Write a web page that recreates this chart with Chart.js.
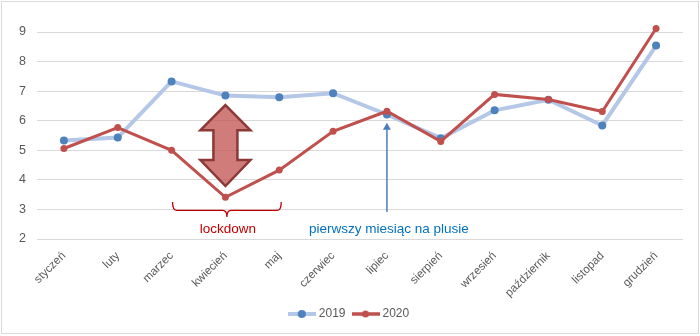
<!DOCTYPE html>
<html>
<head>
<meta charset="utf-8">
<script src="https://cdn.jsdelivr.net/npm/chart.js@4/dist/chart.umd.min.js"></script>
<style>
html,body{margin:0;padding:0;background:#fff;}
canvas{display:block;}
</style>
</head>
<body>
<canvas id="c" width="700" height="336" style="width:700px;height:336px"></canvas>
<script>
const months = ['styczeń','luty','marzec','kwiecień','maj','czerwiec','lipiec','sierpień','wrzesień','październik','listopad','grudzień'];
const values2019 = [5.33, 5.43, 7.33, 6.85, 6.79, 6.93, 6.21, 5.41, 6.35, 6.71, 5.84, 8.54];
const values2020 = [5.06, 5.77, 5.0, 3.41, 4.33, 5.64, 6.32, 5.30, 6.89, 6.72, 6.31, 9.12];
const seriesNames = ['2019', '2020'];
const yTicks = [2, 3, 4, 5, 6, 7, 8, 9];
const lockdownLabel = 'lockdown';
const plusLabel = 'pierwszy miesiąc na plusie';

const FONT = '"Liberation Sans", Arial, sans-serif';
const GREY = '#595959';

function legendImage(lineColor, lineWidth, pointColor, r) {
  const c = document.createElement('canvas');
  c.width = 28; c.height = 10;
  const g = c.getContext('2d');
  g.strokeStyle = lineColor; g.lineWidth = lineWidth;
  g.beginPath(); g.moveTo(0, 5); g.lineTo(28, 5); g.stroke();
  g.fillStyle = pointColor;
  g.beginPath(); g.arc(14, 5, r, 0, Math.PI * 2); g.fill();
  return c;
}
const img2019 = legendImage('#b4c7e7', 4, '#4f81bd', 4);
const img2020 = legendImage('#c0504d', 3.5, '#c0504d', 3.5);

const decor = {
  id: 'decor',
  beforeDraw(chart) {
    const ctx = chart.ctx;
    ctx.save();
    ctx.fillStyle = '#fff';
    ctx.fillRect(0, 0, chart.width, chart.height);
    ctx.strokeStyle = '#d9d9d9';
    ctx.lineWidth = 1;
    ctx.strokeRect(1.5, 1.5, 697, 332);
    ctx.restore();
  },
  afterDatasetsDraw(chart) {
    const ctx = chart.ctx;
    const xs = chart.scales.x, ys = chart.scales.y;
    ctx.save();
    // big double arrow at kwiecień
    const cx = xs.getPixelForValue(3);
    const yTop = ys.getPixelForValue(6.53);
    const yHead = ys.getPixelForValue(5.68);
    const yHead2 = ys.getPixelForValue(4.67);
    const yBot = ys.getPixelForValue(3.79);
    const hw = 25, sw = 12;
    ctx.beginPath();
    ctx.moveTo(cx, yTop);
    ctx.lineTo(cx + hw, yHead);
    ctx.lineTo(cx + sw, yHead);
    ctx.lineTo(cx + sw, yHead2);
    ctx.lineTo(cx + hw, yHead2);
    ctx.lineTo(cx, yBot);
    ctx.lineTo(cx - hw, yHead2);
    ctx.lineTo(cx - sw, yHead2);
    ctx.lineTo(cx - sw, yHead);
    ctx.lineTo(cx - hw, yHead);
    ctx.closePath();
    ctx.fillStyle = 'rgba(192,80,77,0.75)';
    ctx.fill();
    ctx.strokeStyle = '#8c3836';
    ctx.lineWidth = 2.5;
    ctx.lineJoin = 'miter';
    ctx.stroke();

    // brace marzec..maj
    const bx1 = xs.getPixelForValue(2) + 1, bx2 = xs.getPixelForValue(4) + 2;
    const bTop = ys.getPixelForValue(3.25), bLine = ys.getPixelForValue(2.97), bTip = ys.getPixelForValue(2.74);
    const bm = (bx1 + bx2) / 2;
    ctx.strokeStyle = '#c00000';
    ctx.lineWidth = 1.3;
    ctx.beginPath();
    ctx.moveTo(bx1, bTop);
    ctx.quadraticCurveTo(bx1, bLine, bx1 + 4, bLine);
    ctx.lineTo(bm - 4, bLine);
    ctx.quadraticCurveTo(bm, bLine, bm, bTip);
    ctx.quadraticCurveTo(bm, bLine, bm + 4, bLine);
    ctx.lineTo(bx2 - 4, bLine);
    ctx.quadraticCurveTo(bx2, bLine, bx2, bTop);
    ctx.stroke();

    ctx.font = '13.5px ' + FONT;
    ctx.textAlign = 'center';
    ctx.textBaseline = 'middle';
    ctx.fillStyle = '#c00000';
    ctx.fillText(lockdownLabel, bm + 1, ys.getPixelForValue(2.34));

    // blue arrow at lipiec
    const ax = xs.getPixelForValue(6);
    const aTop = ys.getPixelForValue(5.93), aBot = ys.getPixelForValue(2.91);
    ctx.strokeStyle = '#4a7ebb';
    ctx.fillStyle = '#4a7ebb';
    ctx.lineWidth = 1.5;
    ctx.beginPath();
    ctx.moveTo(ax, aBot);
    ctx.lineTo(ax, aTop + 5);
    ctx.stroke();
    ctx.beginPath();
    ctx.moveTo(ax, aTop);
    ctx.lineTo(ax + 4, aTop + 7);
    ctx.lineTo(ax - 4, aTop + 7);
    ctx.closePath();
    ctx.fill();

    ctx.font = '13.5px ' + FONT;
    ctx.fillStyle = '#0070c0';
    ctx.fillText(plusLabel, ax + 2, ys.getPixelForValue(2.34));
    ctx.restore();
  }
};

new Chart(document.getElementById('c'), {
  type: 'line',
  data: {
    labels: months,
    datasets: [
      {
        label: seriesNames[0],
        data: values2019,
        borderColor: '#b4c7e7',
        borderWidth: 4,
        pointBackgroundColor: '#4f81bd',
        pointBorderColor: '#4f81bd',
        pointRadius: 4,
        pointBorderWidth: 0,
        tension: 0,
        clip: false,
        order: 2
      },
      {
        label: seriesNames[1],
        data: values2020,
        borderColor: '#c0504d',
        borderWidth: 3,
        pointBackgroundColor: '#c0504d',
        pointBorderColor: '#c0504d',
        pointRadius: 3.5,
        pointBorderWidth: 0,
        tension: 0,
        clip: false,
        order: 1
      }
    ]
  },
  options: {
    responsive: false,
    animation: false,
    events: [],
    layout: { padding: { left: 0, right: 0, top: 32, bottom: 6 } },
    scales: {
      x: {
        offset: true,
        grid: { display: false, drawTicks: false },
        border: { display: false },
        ticks: { color: GREY, font: { size: 11.5, family: FONT }, minRotation: 45, maxRotation: 45, padding: 10, autoSkip: false },
        afterFit(s) { s.height = 60; }
      },
      y: {
        min: 2, max: 9,
        afterBuildTicks(s) { s.ticks = yTicks.map(v => ({ value: v })); },
        grid: { color: '#d9d9d9', drawTicks: false, lineWidth: 1 },
        border: { display: false },
        ticks: { color: GREY, font: { size: 12.5, family: FONT }, padding: 11 },
        afterFit(s) { s.width = 37; }
      },
      yR: {
        position: 'right',
        display: true,
        min: 2, max: 9,
        grid: { display: false, drawTicks: false },
        border: { display: false },
        ticks: { display: false },
        afterFit(s) { s.width = 17; }
      }
    },
    plugins: {
      tooltip: { enabled: false },
      legend: {
        position: 'bottom',
        labels: {
          usePointStyle: true,
          pointStyleWidth: 22,
          padding: 9,
          color: GREY,
          font: { size: 12, family: FONT },
          generateLabels(chart) {
            return chart.data.datasets.map((d, i) => ({
              text: d.label,
              pointStyle: i === 0 ? img2019 : img2020,
              fillStyle: d.borderColor,
              strokeStyle: d.borderColor,
              lineWidth: 0,
              hidden: false,
              datasetIndex: i,
              fontColor: GREY
            }));
          }
        }
      }
    }
  },
  plugins: [decor]
});
</script>
</body>
</html>
